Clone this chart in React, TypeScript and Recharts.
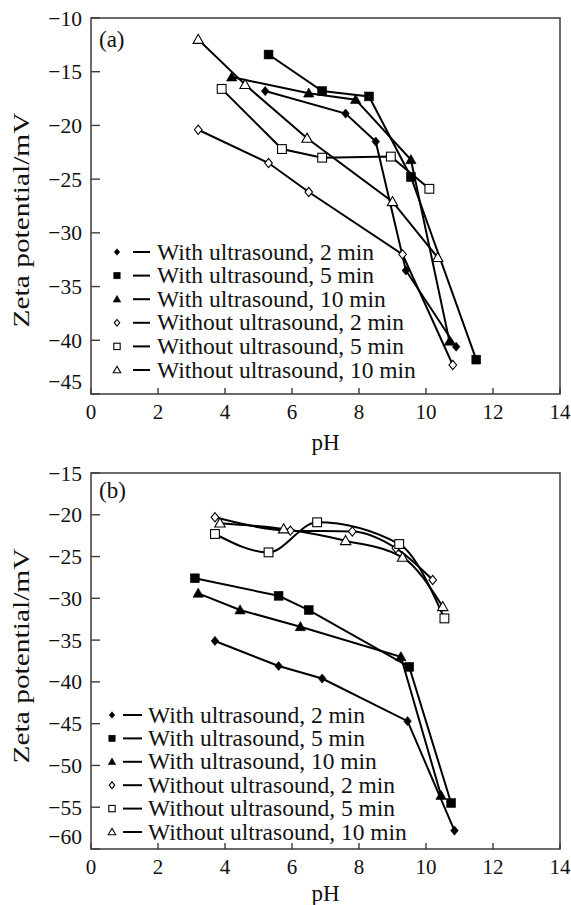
import React from 'react'
import { LineChart, Line, XAxis, YAxis, ReferenceArea } from 'recharts'

// [pH, zeta potential (mV)]
type Pair = [number, number]

const phTicks = [0, 2, 4, 6, 8, 10, 12, 14]
const zetaTicksA = [-45, -40, -35, -30, -25, -20, -15, -10]
const zetaTicksB = [-60, -55, -50, -45, -40, -35, -30, -25, -20, -15]

const seriesNames = [
  'With ultrasound, 2 min',
  'With ultrasound, 5 min',
  'With ultrasound, 10 min',
  'Without ultrasound, 2 min',
  'Without ultrasound, 5 min',
  'Without ultrasound, 10 min',
]
const markerKinds = ['diamond', 'square', 'triangle', 'diamondOpen', 'squareOpen', 'triangleOpen']

// panel (a)
const aWith2: Pair[] = [[5.2, -16.8], [7.6, -18.9], [8.5, -21.5], [9.4, -33.5], [10.9, -40.6]]
const aWith5: Pair[] = [[5.3, -13.4], [6.9, -16.8], [8.3, -17.3], [9.55, -24.8], [11.5, -41.8]]
const aWith10: Pair[] = [[4.2, -15.5], [6.5, -17.0], [7.9, -17.6], [9.55, -23.2], [10.7, -40.1]]
const aWithout2: Pair[] = [[3.2, -20.4], [5.3, -23.5], [6.5, -26.2], [9.3, -32.0], [10.8, -42.3]]
const aWithout5: Pair[] = [[3.9, -16.6], [5.7, -22.2], [6.9, -23.0], [8.95, -22.9], [10.1, -25.9]]
const aWithout10: Pair[] = [[3.2, -12.0], [4.6, -16.2], [6.45, -21.2], [9.0, -27.1], [10.35, -32.3]]

// panel (b)
const bWith2: Pair[] = [[3.7, -35.1], [5.6, -38.1], [6.9, -39.6], [9.45, -44.7], [10.85, -57.8]]
const bWith5: Pair[] = [[3.1, -27.6], [5.6, -29.7], [6.5, -31.4], [9.5, -38.2], [10.75, -54.5]]
const bWith10: Pair[] = [[3.2, -29.4], [4.45, -31.4], [6.25, -33.4], [9.25, -37.0], [10.45, -53.6]]
const bWithout2: Pair[] = [[3.7, -20.3], [5.95, -21.9], [7.8, -22.0], [9.1, -24.0], [10.2, -27.8]]
const bWithout5: Pair[] = [[3.7, -22.3], [5.3, -24.5], [6.75, -20.9], [9.2, -23.5], [10.55, -32.4]]
const bWithout10: Pair[] = [[3.85, -21.0], [5.75, -21.7], [7.6, -23.1], [9.3, -25.1], [10.5, -31.0]]

const FONT = '"Liberation Serif", "Times New Roman", serif'
const AXIS = '#3c3c3c'

function Marker({ kind, cx, cy, s = 1 }: { kind: string; cx: number; cy: number; s?: number }) {
  const open = kind.endsWith('Open')
  const fill = open ? '#fff' : '#000'
  const sw = open ? 1.1 : 0.6
  if (kind.startsWith('diamond')) {
    const r = 4.6 * s
    const w = 3.8 * s
    return (
      <polygon
        points={`${cx},${cy - r} ${cx + w},${cy} ${cx},${cy + r} ${cx - w},${cy}`}
        fill={fill}
        stroke="#000"
        strokeWidth={sw}
      />
    )
  }
  if (kind.startsWith('square')) {
    const r = 4.4 * s
    return <rect x={cx - r} y={cy - r} width={2 * r} height={2 * r} fill={fill} stroke="#000" strokeWidth={sw} />
  }
  const r = 5.2 * s
  return (
    <polygon
      points={`${cx},${cy - r} ${cx + r},${cy + r * 0.75} ${cx - r},${cy + r * 0.75}`}
      fill={fill}
      stroke="#000"
      strokeWidth={sw}
    />
  )
}

const minus = (v: number) => (v < 0 ? '\u2212' + Math.abs(v) : String(v))

function YTick(props: any) {
  const { x, y, payload, bottom } = props
  const axisX = x + 9
  const shift = payload.value === bottom ? -13 : 0
  return (
    <g>
      <line x1={axisX} x2={axisX + 9} y1={y} y2={y} stroke={AXIS} strokeWidth={1.4} />
      <text x={x} y={y + shift + 7.5} textAnchor="end" fontSize={21.5} fontFamily={FONT} fill="#111">
        {minus(payload.value)}
      </text>
    </g>
  )
}

function XTick(props: any) {
  const { x, y, payload } = props
  const axisY = y - 10
  return (
    <g>
      <line x1={x} x2={x} y1={axisY} y2={axisY - 6} stroke={AXIS} strokeWidth={1.4} />
      <text x={x} y={axisY + 25} textAnchor="middle" fontSize={21} fontFamily={FONT} fill="#111">
        {payload.value}
      </text>
    </g>
  )
}

type PanelProps = {
  top: number
  height: number
  marginTop: number
  xAxisHeight: number
  zetaTicks: number[]
  series: Pair[][]
  curved: boolean[]
  tag: string
  tagY: number
  yLabelY: number
  pHOffset: number
  legend: { top: number; step: number; mx: number; d1: number; d2: number; tx: number }
}

function Panel(p: PanelProps) {
  const yMin = p.zetaTicks[0]
  const yMax = p.zetaTicks[p.zetaTicks.length - 1]
  return (
    <div style={{ position: 'absolute', left: 0, top: p.top, width: 571, height: p.height }}>
      <LineChart width={571} height={p.height} margin={{ top: p.marginTop, right: 11, bottom: 0, left: 0 }}>
        <XAxis
          type="number"
          dataKey="x"
          domain={[0, 14]}
          ticks={phTicks}
          height={p.xAxisHeight}
          axisLine={false}
          tickLine={false}
          tickSize={0}
          tickMargin={10}
          tick={<XTick />}
          allowDataOverflow
          label={{ value: 'pH', position: 'insideBottom', offset: p.pHOffset, fontSize: 23, fontFamily: FONT, fill: '#111' }}
        />
        <YAxis
          type="number"
          dataKey="y"
          domain={[yMin, yMax]}
          ticks={p.zetaTicks}
          width={91}
          axisLine={false}
          tickLine={false}
          tickSize={0}
          tickMargin={9}
          tick={<YTick bottom={yMin} />}
          allowDataOverflow
        />
        <ReferenceArea x1={0} x2={14} y1={yMin} y2={yMax} fill="none" stroke={AXIS} strokeWidth={1.5} />
        {p.series.map((pts, i) => (
          <Line
            key={seriesNames[i]}
            data={pts.map(([x, y]) => ({ x, y }))}
            dataKey="y"
            name={seriesNames[i]}
            type={p.curved[i] ? 'monotone' : 'linear'}
            stroke="#000"
            strokeWidth={2}
            isAnimationActive={false}
            activeDot={false}
            dot={(d: any) => <Marker key={`${i}-${d.index}`} kind={markerKinds[i]} cx={d.cx} cy={d.cy} />}
          />
        ))}
      </LineChart>
      <svg
        width={571}
        height={p.height}
        style={{ position: 'absolute', left: 0, top: 0, pointerEvents: 'none' }}
        fontFamily={FONT}
      >
        <text x={99} y={p.tagY} fontSize={23} fill="#111">
          {p.tag}
        </text>
        <text
          x={0}
          y={0}
          transform={`translate(29, ${p.yLabelY}) rotate(-90)`}
          textAnchor="middle"
          fontSize={24}
          fill="#111"
          textLength={215}
          lengthAdjust="spacingAndGlyphs"
        >
          Zeta potential/mV
        </text>
        {seriesNames.map((name, i) => {
          const cy = p.legend.top + i * p.legend.step
          return (
            <g key={name}>
              <Marker kind={markerKinds[i]} cx={p.legend.mx} cy={cy} s={0.72} />
              <line x1={p.legend.d1} x2={p.legend.d2} y1={cy} y2={cy} stroke="#000" strokeWidth={2} />
              <text x={p.legend.tx} y={cy + 7.5} fontSize={23.5} fill="#111">
                {name}
              </text>
            </g>
          )
        })}
      </svg>
    </div>
  )
}

export default function App() {
  return (
    <div style={{ position: 'absolute', left: 0, top: 0, width: 571, height: 905, background: '#fff' }}>
      <Panel
        top={0}
        height={460}
        marginTop={18}
        xAxisHeight={66}
        zetaTicks={zetaTicksA}
        series={[aWith2, aWith5, aWith10, aWithout2, aWithout5, aWithout10]}
        curved={[false, false, false, false, false, false]}
        tag="(a)"
        tagY={47}
        yLabelY={220}
        pHOffset={10}
        legend={{ top: 252, step: 23.6, mx: 117, d1: 133, d2: 150, tx: 157 }}
      />
      <Panel
        top={452}
        height={453}
        marginTop={21}
        xAxisHeight={56}
        zetaTicks={zetaTicksB}
        series={[bWith2, bWith5, bWith10, bWithout2, bWithout5, bWithout10]}
        curved={[false, false, false, true, true, true]}
        tag="(b)"
        tagY={46}
        yLabelY={204}
        pHOffset={4}
        legend={{ top: 263, step: 23.4, mx: 112, d1: 123, d2: 142, tx: 148 }}
      />
    </div>
  )
}
